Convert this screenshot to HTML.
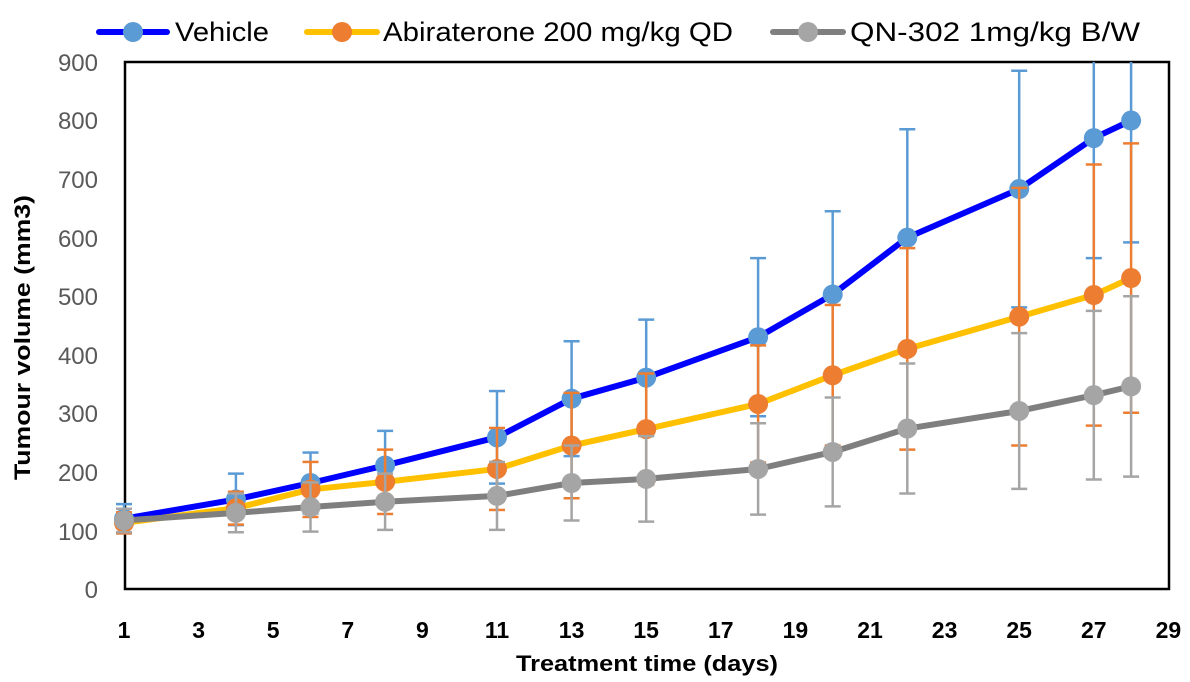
<!DOCTYPE html>
<html><head><meta charset="utf-8"><style>
html,body{margin:0;padding:0;background:#fff;}
svg{display:block;font-family:"Liberation Sans",sans-serif;}
</style></head><body>
<svg id="c" width="1190" height="682" xmlns="http://www.w3.org/2000/svg">
<rect x="125" y="62" width="1044" height="527" fill="none" stroke="#000" stroke-width="2.5"/>
<g font-size="24" fill="#595959" text-anchor="end">
<text x="98" y="598">0</text><text x="98" y="540">100</text><text x="98" y="481">200</text>
<text x="98" y="422">300</text><text x="98" y="364">400</text><text x="98" y="305">500</text>
<text x="98" y="247">600</text><text x="98" y="188">700</text><text x="98" y="129">800</text>
<text x="98" y="71">900</text>
</g>
<g font-size="23" font-weight="bold" fill="#000" text-anchor="middle" id="xt"></g>
<text x="516" y="671" font-size="22" font-weight="bold" textLength="262" lengthAdjust="spacingAndGlyphs">Treatment time (days)</text>
<text transform="translate(30,480) rotate(-90)" font-size="22" font-weight="bold" textLength="285" lengthAdjust="spacingAndGlyphs">Tumour volume (mm3)</text>
<g id="plot"></g>
<g font-size="27" fill="#000">
<line x1="99" y1="32" x2="167" y2="32" stroke="#0000ff" stroke-width="6" stroke-linecap="round"/><circle cx="133" cy="32" r="10" fill="#5b9bd5"/>
<text x="175" y="41" textLength="94" lengthAdjust="spacingAndGlyphs">Vehicle</text>
<line x1="307" y1="32" x2="377" y2="32" stroke="#ffc000" stroke-width="6" stroke-linecap="round"/><circle cx="342" cy="32" r="10" fill="#ed7d31"/>
<text x="383" y="41" textLength="350" lengthAdjust="spacingAndGlyphs">Abiraterone 200 mg/kg QD</text>
<line x1="773" y1="32" x2="843" y2="32" stroke="#7f7f7f" stroke-width="6" stroke-linecap="round"/><circle cx="808" cy="32" r="10" fill="#a5a5a5"/>
<text x="850" y="41" textLength="290" lengthAdjust="spacingAndGlyphs">QN-302 1mg/kg B/W</text>
</g>
</svg>
<script>
var NS="http://www.w3.org/2000/svg";
function X(d){return 124+(d-1)*37.3;}
function Y(v){return 589-v*0.5856;}
var xt=document.getElementById('xt');
for(var d=1;d<=29;d+=2){var t=document.createElementNS(NS,'text');t.setAttribute('x',X(d));t.setAttribute('y',638);t.textContent=d;xt.appendChild(t);}
var days=[1,4,6,8,11,13,15,18,20,22,25,27,28];
var S=[
{line:'#0000ff',m:'#5b9bd5',v:[120,153,181,211,259,325,361,430,503,600,683,770,800],e:[25,44,52,59,79,98,99,135,142,185,202,205,208]},
{line:'#ffc000',m:'#ed7d31',v:[113,138,170,183,205,245,273,316,365,410,465,502,531],e:[18,28,47,55,70,90,95,100,120,172,220,223,230]},
{line:'#7f7f7f',m:'#a5a5a5',v:[117,130,140,149,159,181,188,205,234,274,304,331,346],e:[20,33,42,48,58,64,73,78,93,111,133,144,154]}
];
var p=document.getElementById('plot');
function el(n,a){var e=document.createElementNS(NS,n);for(var k in a)e.setAttribute(k,a[k]);p.appendChild(e);return e;}
S.forEach(function(s){
  days.forEach(function(d,i){
    var x=X(d),hi=Math.max(Y(s.v[i]+s.e[i]),62),lo=Y(s.v[i]-s.e[i]);
    el('line',{x1:x,y1:hi,x2:x,y2:lo,stroke:s.m,'stroke-width':2.5});
    if(Y(s.v[i]+s.e[i])>=62)el('line',{x1:x-8,y1:hi,x2:x+8,y2:hi,stroke:s.m,'stroke-width':2.5});
    el('line',{x1:x-8,y1:lo,x2:x+8,y2:lo,stroke:s.m,'stroke-width':2.5});
  });
  el('polyline',{points:days.map(function(d,i){return X(d)+','+Y(s.v[i]);}).join(' '),fill:'none',stroke:s.line,'stroke-width':6,'stroke-linejoin':'round'});
  days.forEach(function(d,i){el('circle',{cx:X(d),cy:Y(s.v[i]),r:10,fill:s.m});});
});
</script>
</body></html>
